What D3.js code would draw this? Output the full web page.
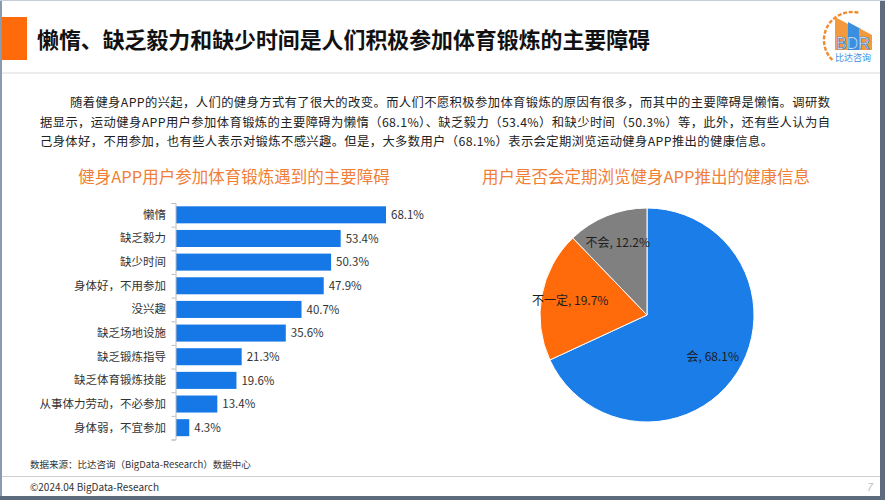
<!DOCTYPE html>
<html><head><meta charset="utf-8">
<script src="https://cdn.jsdelivr.net/npm/d3@7"></script>
<style>
html,body{margin:0;padding:0;background:#fff;}
svg{display:block;font-family:"Noto Sans CJK SC","Noto Sans",sans-serif;}
</style></head>
<body>
<svg id="c" width="885" height="500"></svg>
<script>
const title = "懒惰、缺乏毅力和缺少时间是人们积极参加体育锻炼的主要障碍";
const paragraph = [
  "随着健身APP的兴起，人们的健身方式有了很大的改变。而人们不愿积极参加体育锻炼的原因有很多，而其中的主要障碍是懒惰。调研数",
  "据显示，运动健身APP用户参加体育锻炼的主要障碍为懒惰（68.1%）、缺乏毅力（53.4%）和缺少时间（50.3%）等，此外，还有些人认为自",
  "己身体好，不用参加，也有些人表示对锻炼不感兴趣。但是，大多数用户（68.1%）表示会定期浏览运动健身APP推出的健康信息。"
];
const barTitle = "健身APP用户参加体育锻炼遇到的主要障碍";
const barCategories = ["懒惰","缺乏毅力","缺少时间","身体好，不用参加","没兴趣","缺乏场地设施","缺乏锻炼指导","缺乏体育锻炼技能","从事体力劳动，不必参加","身体弱，不宜参加"];
const barValues = [68.1,53.4,50.3,47.9,40.7,35.6,21.3,19.6,13.4,4.3];
const pieTitle = "用户是否会定期浏览健身APP推出的健康信息";
const pieLabels = ["会","不一定","不会"];
const pieValues = [68.1,19.7,12.2];
const pieColors = ["#1a7de8","#ff6a0a","#808080"];
const sourceText = "数据来源：比达咨询（BigData-Research）数据中心";
const copyright = "©2024.04 BigData-Research";
const pageNo = "7";

const svg = d3.select("#c");

// frame
svg.append("rect").attr("x",0).attr("y",0).attr("width",885).attr("height",500).attr("fill","#fff");
svg.append("rect").attr("x",0).attr("y",0).attr("width",2).attr("height",500).attr("fill","#8a9bb0");
svg.append("rect").attr("x",880).attr("y",0).attr("width",5).attr("height",500).attr("fill","#5d6b7c");
svg.append("rect").attr("x",0).attr("y",496).attr("width",885).attr("height",4).attr("fill","#5d6b7c");
svg.append("rect").attr("x",0).attr("y",0).attr("width",885).attr("height",1).attr("fill","#c5cdd8");

// header
svg.append("rect").attr("x",2).attr("y",17).attr("width",25).attr("height",43).attr("fill","#ff6a0a");
svg.append("text").attr("x",37).attr("y",47.5).attr("font-size",22).attr("font-weight","bold").attr("fill","#111")
  .attr("textLength",613).attr("lengthAdjust","spacingAndGlyphs").text(title);
svg.append("line").attr("x1",2).attr("x2",880).attr("y1",73).attr("y2",73).attr("stroke","#d8d8d8");

// logo
const lg = svg.append("g");
const arcDots = d3.range(0,13).map(i => -Math.PI*0.45 - i*Math.PI*0.065);
arcDots.forEach(a => {
  const px = 852+28*Math.cos(a), py = 40+28*Math.sin(a);
  lg.append("rect").attr("x",px-2).attr("y",py-1.2).attr("width",4).attr("height",2.4)
    .attr("fill","#f08a2a").attr("transform",`rotate(${a*180/Math.PI+90},${px},${py})`);
});
lg.append("path").attr("d","M835,50 L835,17 L850,25 L850,50 Z").attr("fill","#f39a3c");
lg.append("path").attr("d","M848,50 L848,22 L861,29 L861,50 Z").attr("fill","#3a8fe0");
lg.append("path").attr("d","M859,50 L859,28 L872,35 L872,50 Z").attr("fill","#f39a3c");
lg.append("text").attr("x",853).attr("y",49).attr("text-anchor","middle").attr("font-size",16).attr("font-family","Liberation Sans, Arial")
  .attr("fill","#fff").attr("stroke","#2f7fd8").attr("stroke-width",0.7).text("BDR");
lg.append("text").attr("x",853).attr("y",61).attr("text-anchor","middle").attr("font-size",9).attr("fill","#3a8fe0").text("比达咨询");

// paragraph
const pX = [70,40,40], pY = [107,127,146], pW = [760,790,733];
paragraph.forEach((t,i)=>{
  svg.append("text").attr("x",pX[i]).attr("y",pY[i]).attr("font-size",12.3).attr("fill","#222")
    .attr("textLength",pW[i]).attr("lengthAdjust","spacing").text(t);
});

// bar chart
svg.append("text").attr("x",234).attr("y",183).attr("text-anchor","middle").attr("font-size",16.5).attr("fill","#f08038").text(barTitle);
const x = d3.scaleLinear().domain([0,68.1]).range([176,386]);
const y = d3.scaleBand().domain(barCategories).range([203,439.5]).paddingInner(0.28).paddingOuter(0.14);
const g = svg.append("g");
g.selectAll("rect.bar").data(barValues).join("rect").attr("class","bar")
  .attr("x",x(0)).attr("y",(d,i)=>y(barCategories[i])).attr("width",d=>x(d)-x(0)).attr("height",y.bandwidth())
  .attr("fill","#1677e6");
g.selectAll("text.val").data(barValues).join("text").attr("class","val")
  .attr("x",d=>x(d)+5).attr("y",(d,i)=>y(barCategories[i])+y.bandwidth()/2+4.2)
  .attr("font-size",11.5).attr("fill","#333").text(d=>d.toFixed(1)+"%");
// axis
const axG = svg.append("g").attr("transform",`translate(${x(0)-0.5},0)`);
const yb = d3.scaleLinear().domain([0,barCategories.length]).range([203,439.5]);
axG.call(d3.axisLeft(yb).tickValues(d3.range(0,barCategories.length+1)).tickSize(4).tickFormat(""));
axG.selectAll("path,line").attr("stroke","#bdbdbd");
svg.selectAll("text.cat").data(barCategories).join("text").attr("class","cat")
  .attr("x",166).attr("y",d=>y(d)+y.bandwidth()/2+4).attr("text-anchor","end")
  .attr("font-size",11.5).attr("fill","#333").text(d=>d);

// pie chart
svg.append("text").attr("x",646).attr("y",183).attr("text-anchor","middle").attr("font-size",16.5).attr("fill","#f08038").text(pieTitle);
const cx=647, cy=315, r=107;
const pie = d3.pie().sort(null).value(d=>d)(pieValues);
const arc = d3.arc().innerRadius(0).outerRadius(r);
const labArc = d3.arc().innerRadius(r*0.73).outerRadius(r*0.73);
const pg = svg.append("g").attr("transform",`translate(${cx},${cy})`);
pg.selectAll("path").data(pie).join("path").attr("d",arc).attr("fill",(d,i)=>pieColors[i]).attr("stroke","#fff").attr("stroke-width",1);
pg.selectAll("text").data(pie).join("text")
  .attr("transform",d=>`translate(${labArc.centroid(d)})`).attr("dy","0.35em")
  .attr("text-anchor","middle").attr("font-size",12).attr("fill","#1e1e1e")
  .text((d,i)=>pieLabels[i]+", "+pieValues[i].toFixed(1)+"%");

// footer
svg.append("text").attr("x",30).attr("y",468).attr("font-size",9.5).attr("fill","#333").text(sourceText);
svg.append("line").attr("x1",2).attr("x2",880).attr("y1",476.5).attr("y2",476.5).attr("stroke","#d0d0d0");
svg.append("text").attr("x",30).attr("y",491).attr("font-size",10).attr("fill","#333").text(copyright);
svg.append("text").attr("x",866).attr("y",491).attr("font-size",11).attr("fill","#bbb").attr("font-style","italic").text(pageNo);
</script>
</body></html>
